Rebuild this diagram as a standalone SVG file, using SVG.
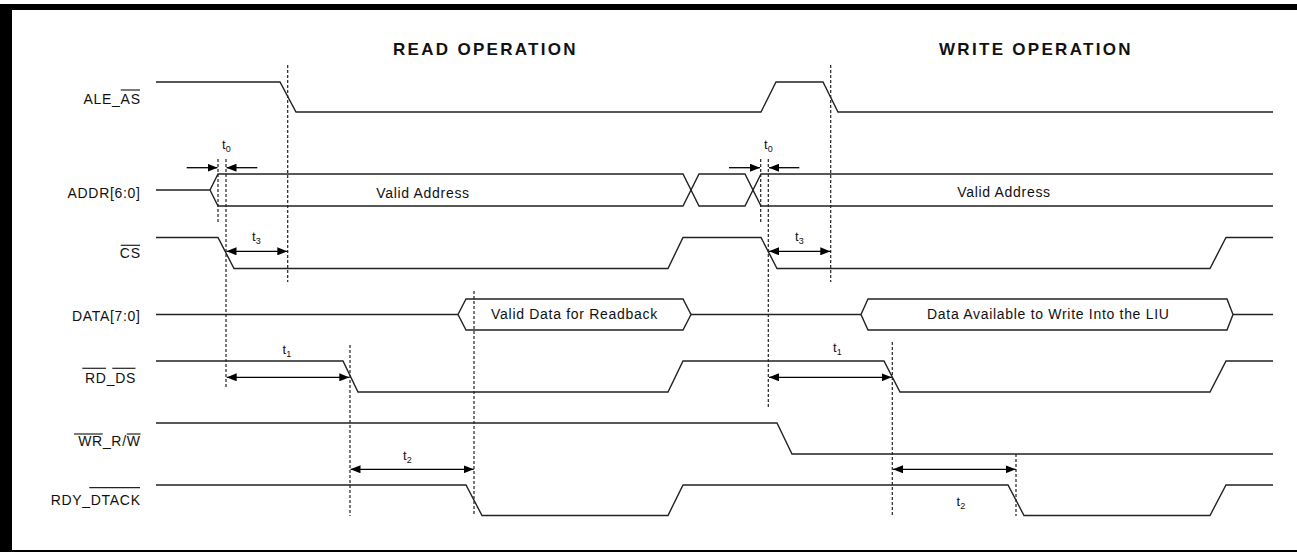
<svg xmlns="http://www.w3.org/2000/svg" width="1297" height="552" viewBox="0 0 1297 552">
<style>
  .wave{fill:none;stroke:#222;stroke-width:1.4;stroke-linejoin:miter}
  .dash{fill:none;stroke:#222;stroke-width:1.2;stroke-dasharray:3 2}
  .arr{fill:none;stroke:#000;stroke-width:1.3}
  .ovl{stroke:#222;stroke-width:1.2}
  .lbl{font-family:"Liberation Sans",Arial,sans-serif;font-size:14px;letter-spacing:0.7px;fill:#111;text-anchor:end}
  .bus{font-family:"Liberation Sans",Arial,sans-serif;font-size:14px;letter-spacing:0.7px;fill:#111;text-anchor:middle}
  .ttl{font-family:"Liberation Sans",Arial,sans-serif;font-size:17px;font-weight:bold;letter-spacing:2.3px;fill:#111}
  .tm{font-family:"Liberation Sans",Arial,sans-serif;font-size:13px;fill:#111}
  .sub{font-size:9px}
</style>
<defs>
  <marker id="ah" viewBox="0 0 10 8" refX="10" refY="4" markerWidth="10" markerHeight="8" markerUnits="userSpaceOnUse" orient="auto-start-reverse">
    <path d="M0,0 L10,4 L0,8 z" fill="#000"/>
  </marker>
</defs>
<rect width="1297" height="552" fill="#fff"/>
<g id="frame" fill="#000">
  <rect x="0" y="4" width="1297" height="6"/>
  <rect x="0" y="4" width="12" height="548"/>
  <rect x="0" y="550" width="1297" height="2"/>
</g>
<g id="titles">
  <text class="ttl" x="393" y="55">READ OPERATION</text>
  <text class="ttl" x="939" y="55">WRITE OPERATION</text>
</g>
<g id="sig-ale">
  <text class="lbl" x="140.7" y="104">ALE_AS</text>
  <line class="ovl" x1="120.7" y1="90" x2="140" y2="90"/>
  <polyline class="wave" points="156,82 280,82 296,112 761,112 776,82 823,82 838,112 1273,112"/>
</g>
<g id="sig-addr">
  <text class="lbl" x="140.7" y="198">ADDR[6:0]</text>
  <polyline class="wave" points="156,190 210,190 218,174 683,174 699,206 745,206 761,174 1273,174"/>
  <polyline class="wave" points="210,190 218,206 683,206 699,174 745,174 761,206 1273,206"/>
  <text class="bus" x="423" y="197.5">Valid Address</text>
  <text class="bus" x="1004" y="197">Valid Address</text>
</g>
<g id="sig-cs">
  <text class="lbl" x="140.7" y="258">CS</text>
  <line class="ovl" x1="120.7" y1="245.3" x2="140" y2="245.3"/>
  <polyline class="wave" points="156,237.5 218,237.5 234,268.5 668,268.5 683,237.5 761,237.5 777,268.5 1210,268.5 1226,237.5 1273,237.5"/>
</g>
<g id="sig-data">
  <text class="lbl" x="140.7" y="321">DATA[7:0]</text>
  <polyline class="wave" points="156,314.5 458,314.5"/>
  <polygon class="wave" points="458,314.5 466,299 683,299 691,314.5 683,330 466,330"/>
  <polyline class="wave" points="691,314.5 861,314.5"/>
  <polygon class="wave" points="861,314.5 868,299 1227,299 1233,314.5 1227,330 868,330"/>
  <polyline class="wave" points="1233,314.5 1273,314.5"/>
  <text class="bus" x="574.5" y="319.3">Valid Data for Readback</text>
  <text class="bus" x="1048.3" y="319.3">Data Available to Write Into the LIU</text>
</g>
<g id="sig-rd">
  <text class="lbl" x="136" y="383">RD_DS</text>
  <line class="ovl" x1="82.3" y1="368.3" x2="106" y2="368.3"/>
  <line class="ovl" x1="112.3" y1="368.3" x2="135.5" y2="368.3"/>
  <polyline class="wave" points="156,361 343,361 358,392 668,392 683,361 884,361 900,392 1210,392 1226,361 1273,361"/>
</g>
<g id="sig-wr">
  <text class="lbl" x="140.7" y="446">WR_R/W</text>
  <line class="ovl" x1="74" y1="434" x2="102.7" y2="434"/>
  <line class="ovl" x1="126.7" y1="434" x2="140.5" y2="434"/>
  <polyline class="wave" points="156,423 777,423 792,454 1273,454"/>
</g>
<g id="sig-rdy">
  <text class="lbl" x="140.7" y="505">RDY_DTACK</text>
  <line class="ovl" x1="89.3" y1="487.7" x2="140" y2="487.7"/>
  <polyline class="wave" points="156,485 466,485 482,515.5 668,515.5 683,485 1008,485 1024,515.5 1210,515.5 1226,485 1273,485"/>
</g>
<g id="connectors">
  <line class="dash" x1="287.7" y1="65" x2="287.7" y2="282"/>
  <line class="dash" x1="830.7" y1="65" x2="830.7" y2="282"/>
  <line class="dash" x1="218" y1="159" x2="218" y2="222"/>
  <line class="dash" x1="226" y1="159" x2="226" y2="389"/>
  <line class="dash" x1="760.7" y1="159" x2="760.7" y2="222"/>
  <line class="dash" x1="768.3" y1="159" x2="768.3" y2="408"/>
  <line class="dash" x1="350" y1="345" x2="350" y2="516"/>
  <line class="dash" x1="892.3" y1="342" x2="892.3" y2="516"/>
  <line class="dash" x1="474" y1="291" x2="474" y2="516"/>
  <line class="dash" x1="1016" y1="454" x2="1016" y2="516"/>
  <line class="arr" x1="186.7" y1="167.7" x2="217.5" y2="167.7" marker-end="url(#ah)"/>
  <line class="arr" x1="257.3" y1="167.7" x2="226.5" y2="167.7" marker-end="url(#ah)"/>
  <line class="arr" x1="729" y1="167.7" x2="760" y2="167.7" marker-end="url(#ah)"/>
  <line class="arr" x1="799.3" y1="167.7" x2="769" y2="167.7" marker-end="url(#ah)"/>
  <line class="arr" x1="226.5" y1="251.3" x2="287.3" y2="251.3" marker-start="url(#ah)" marker-end="url(#ah)"/>
  <line class="arr" x1="769" y1="251.3" x2="830.3" y2="251.3" marker-start="url(#ah)" marker-end="url(#ah)"/>
  <line class="arr" x1="226.7" y1="377.3" x2="349.3" y2="377.3" marker-start="url(#ah)" marker-end="url(#ah)"/>
  <line class="arr" x1="769" y1="377.3" x2="891.7" y2="377.3" marker-start="url(#ah)" marker-end="url(#ah)"/>
  <line class="arr" x1="350.5" y1="469.3" x2="473.7" y2="469.3" marker-start="url(#ah)" marker-end="url(#ah)"/>
  <line class="arr" x1="893" y1="469.3" x2="1015.7" y2="469.3" marker-start="url(#ah)" marker-end="url(#ah)"/>
</g>
<g id="timing-labels">
  <text class="tm" x="222" y="149">t<tspan class="sub" dy="3">0</tspan></text>
  <text class="tm" x="764" y="149">t<tspan class="sub" dy="3">0</tspan></text>
  <text class="tm" x="252" y="241">t<tspan class="sub" dy="3">3</tspan></text>
  <text class="tm" x="795" y="241">t<tspan class="sub" dy="3">3</tspan></text>
  <text class="tm" x="282.5" y="354">t<tspan class="sub" dy="3">1</tspan></text>
  <text class="tm" x="833" y="352">t<tspan class="sub" dy="3">1</tspan></text>
  <text class="tm" x="403" y="460">t<tspan class="sub" dy="3">2</tspan></text>
  <text class="tm" x="956.5" y="506">t<tspan class="sub" dy="3">2</tspan></text>
</g>
</svg>
